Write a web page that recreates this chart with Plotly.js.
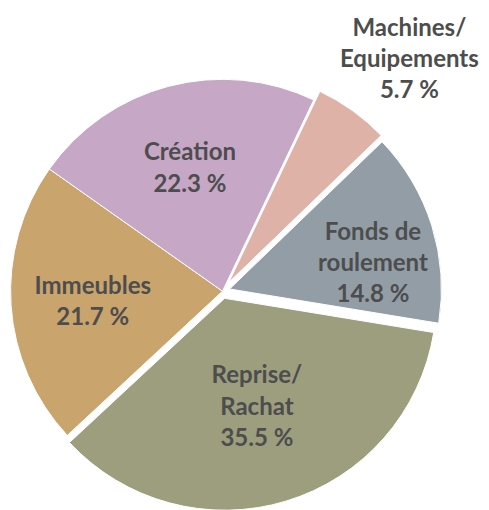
<!DOCTYPE html>
<html>
<head>
<meta charset="utf-8">
<script src="https://cdn.plot.ly/plotly-3.0.1.min.js"></script>
<style>html,body{margin:0;padding:0;background:#fff;overflow:hidden;width:489px;height:510px;}#chart{width:489px;height:520px;}</style>
</head>
<body>
<div id="chart"></div>
<script>
const categories = ["Machines/<br>Equipements", "Fonds de<br>roulement", "Reprise/<br>Rachat", "Immeubles", "Création"];
const shares = [5.7, 14.8, 35.5, 21.7, 22.3];
const colors = ["#dfb2a8", "#939da6", "#9c9e7e", "#c9a46d", "#c6a7c6"];
const pulls = [0.05, 0.035, 0.035, 0, 0];
// slices whose label Plotly would move outside or shrink are labelled by annotations
const positions = ["none", "none", "inside", "inside", "inside"];
const labelSpots = [[0.838, 0.89], [0.762, 0.497]];

const fontSpec = {family: "Lato, 'Open Sans', sans-serif", size: 24, color: "#4d4d4d"};

const trace = {
  type: "pie",
  labels: categories,
  values: shares,
  sort: false,
  direction: "clockwise",
  rotation: 25.5,
  pull: pulls,
  marker: {colors: colors, line: {color: "#ffffff", width: 1}},
  textposition: positions,
  texttemplate: "<b>%{label}<br>%{value:.1f} %</b>",
  insidetextorientation: "horizontal",
  textfont: fontSpec,
  hoverinfo: "skip",
  showlegend: false,
  automargin: false,
  domain: {x: [0, 0.91], y: [0.01, 0.87]}
};

const annotations = labelSpots.map((p, i) => ({
  text: "<b>" + categories[i] + "<br>" + shares[i].toFixed(1) + " %</b>",
  xref: "paper", yref: "paper",
  x: p[0], y: p[1],
  xanchor: "center", yanchor: "middle",
  showarrow: false,
  align: "center",
  font: fontSpec
}));

Plotly.newPlot("chart", [trace], {
  width: 489, height: 520,
  margin: {l: 0, r: 0, t: 0, b: 0},
  paper_bgcolor: "#ffffff",
  showlegend: false,
  annotations: annotations
}, {displayModeBar: false, staticPlot: true});
</script>
</body>
</html>
